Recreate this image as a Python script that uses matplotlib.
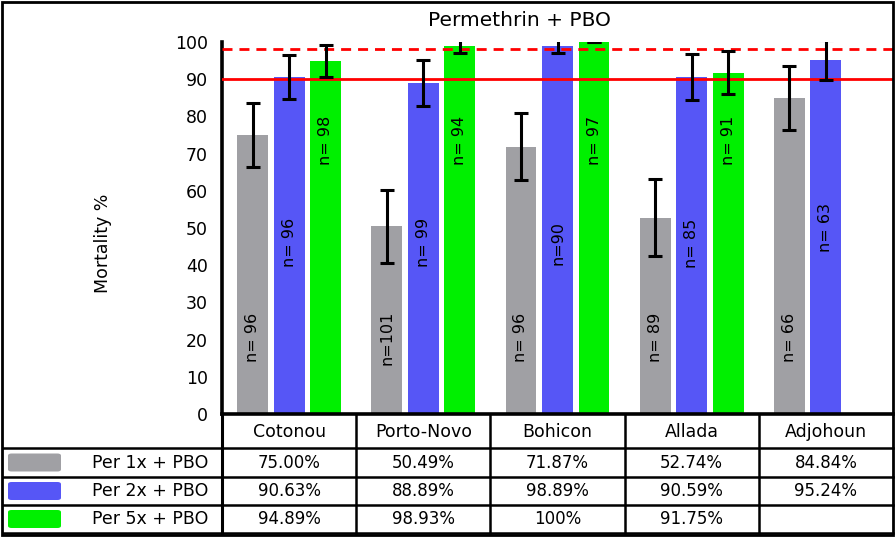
import matplotlib
matplotlib.use("Agg")
import matplotlib.pyplot as plt
import numpy as np
from matplotlib.patches import Rectangle, FancyBboxPatch
from matplotlib.lines import Line2D

# ---- data --------------------------------------------------------------
sites = ["Cotonou", "Porto-Novo", "Bohicon", "Allada", "Adjohoun"]
series = ["Per 1x + PBO", "Per 2x + PBO", "Per 5x + PBO"]
mort_1x = [75.00, 50.49, 71.87, 52.74, 84.84]
mort_2x = [90.63, 88.89, 98.89, 90.59, 95.24]
mort_5x = [94.89, 98.93, 100.0, 91.75, np.nan]
err_1x = [8.6, 9.8, 9.0, 10.4, 8.6]
err_2x = [5.9, 6.2, 1.9, 6.3, 5.4]
err_5x = [4.3, 1.9, 0.0, 5.8, np.nan]
n_1x = ["n= 96", "n=101", "n= 96", "n= 89", "n= 66"]
n_2x = ["n= 96", "n= 99", "n=90", "n= 85", "n= 63"]
n_5x = ["n= 98", "n= 94", "n= 97", "n= 91", ""]
table_1x = ["75.00%", "50.49%", "71.87%", "52.74%", "84.84%"]
table_2x = ["90.63%", "88.89%", "98.89%", "90.59%", "95.24%"]
table_5x = ["94.89%", "98.93%", "100%", "91.75%", ""]
threshold_solid = 90
threshold_dashed = 98

colors = ["#a0a0a4", "#5656f6", "#00f000"]
W, H = 896, 538

plt.rcParams["font.family"] = ["DejaVu Sans"]
fig = plt.figure(figsize=(W / 100, H / 100), dpi=100)

def fx(px):
    return px / W

def fy(py):
    return 1 - py / H

ax_l, ax_r, ax_t, ax_b = 222, 893, 42, 414
ax = fig.add_axes([fx(ax_l), fy(ax_b), fx(ax_r - ax_l), (ax_b - ax_t) / H])

x = np.arange(len(sites))
offsets = [-0.272, 0.0, 0.272]
bw = 0.23
label_y = [20.5, 46.0, 73.5]   # where the n= labels sit (data units)

for k, (vals, errs, ns) in enumerate([(mort_1x, err_1x, n_1x),
                                      (mort_2x, err_2x, n_2x),
                                      (mort_5x, err_5x, n_5x)]):
    xs = x + offsets[k]
    ax.bar(xs, vals, width=bw, color=colors[k], zorder=2)
    ax.errorbar(xs, vals, yerr=errs, fmt="none", ecolor="black",
                elinewidth=2.2, capsize=5, capthick=2.2, zorder=4)
    for xi, lab in zip(xs, ns):
        if lab:
            ly = 50 if lab == "n= 63" else label_y[k]
            ax.text(xi, ly, lab, rotation=90, ha="center", va="center",
                    fontsize=11.5, color="black", zorder=5)

ax.axhline(threshold_solid, color="#ff0000", lw=2, zorder=3)
ax.axhline(threshold_dashed, color="#ff0000", lw=2, dashes=(3.6, 2.5), zorder=3)

ax.set_xlim(-0.5, len(sites) - 0.5)
ax.set_ylim(0, 100)
ax.set_yticks(range(0, 101, 10))
ax.set_xticks([])
ax.tick_params(axis="y", length=0, pad=10, labelsize=12.5)
for s in ["top", "right"]:
    ax.spines[s].set_visible(False)
ax.spines["left"].set_linewidth(2.6)
ax.spines["bottom"].set_linewidth(2.6)

fig.text(fx(519), fy(20), "Permethrin + PBO", ha="center", va="center", fontsize=14.5)
fig.text(fx(103), fy(243), "Mortality %", ha="center", va="center",
         rotation=90, fontsize=12.5)

# ---- data table underneath ---------------------------------------------
row_edges = [414, 448, 477, 505, 533]
col_edges = [ax_l + (ax_r - ax_l) * i / len(sites) for i in range(len(sites) + 1)]
lw_t = 1.8

def hline(py, x0, x1, lw=lw_t):
    fig.add_artist(Line2D([fx(x0), fx(x1)], [fy(py), fy(py)], color="black", lw=lw))

def vline(px, y0, y1, lw=lw_t):
    fig.add_artist(Line2D([fx(px), fx(px)], [fy(y0), fy(y1)], color="black", lw=lw))

for py in row_edges[1:]:
    hline(py, 3, ax_r)
for px in col_edges[1:-1]:
    vline(px, row_edges[0], row_edges[-1])
vline(ax_l, row_edges[0], row_edges[-1], lw=2.2)

for i, name in enumerate(sites):
    cx = (col_edges[i] + col_edges[i + 1]) / 2
    fig.text(fx(cx), fy((row_edges[0] + row_edges[1]) / 2 + 1), name,
             ha="center", va="center", fontsize=12.5)
    for r, col in enumerate([table_1x, table_2x, table_5x]):
        cy = (row_edges[r + 1] + row_edges[r + 2]) / 2
        fig.text(fx(cx), fy(cy), col[i], ha="center", va="center", fontsize=12)

for r, name in enumerate(series):
    y0, y1 = row_edges[r + 1], row_edges[r + 2]
    cy = (y0 + y1) / 2
    fig.add_artist(FancyBboxPatch((fx(8), fy(cy + 9)), fx(53), 18 / H,
                                  boxstyle="round,pad=0,rounding_size=0.004",
                                  transform=fig.transFigure, facecolor=colors[r],
                                  edgecolor="none"))
    fig.text(fx(150), fy(cy), name, ha="center", va="center", fontsize=12.5)

# outer frame around the whole picture
fig.add_artist(Rectangle((fx(2), fy(535)), fx(891), 533 / H, transform=fig.transFigure,
                         fill=False, edgecolor="black", lw=2))

fig.savefig("out.png", dpi=100)
